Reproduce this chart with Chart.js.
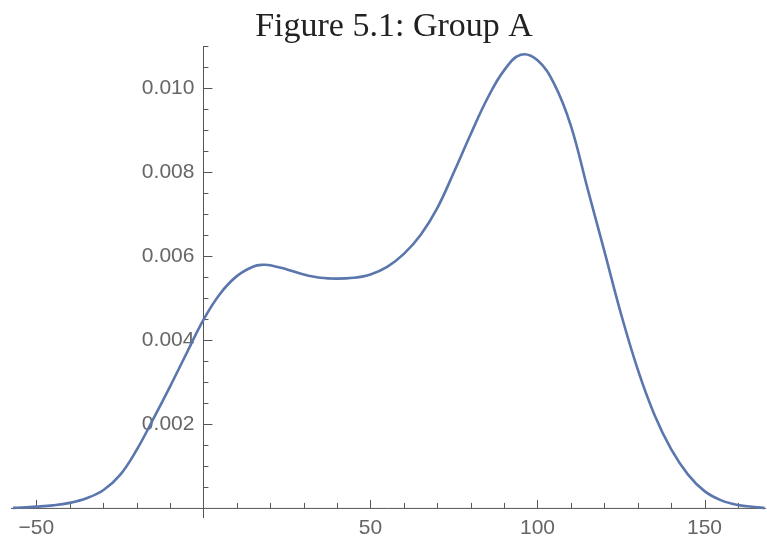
<!DOCTYPE html>
<html>
<head>
<meta charset="utf-8">
<title>Figure 5.1: Group A</title>
<script src="https://cdn.jsdelivr.net/npm/chart.js@4/dist/chart.umd.min.js"></script>
<style>
  body { margin: 0; background: #ffffff; }
  #wrap { width: 767px; height: 539px; }
</style>
</head>
<body>
<div id="wrap"><canvas id="densityChart" width="767" height="539"></canvas></div>
<script>
// density estimate
var xValues = [-57, -50, -45, -40, -35, -30, -25, -20, -15, -10, -5, 0, 5, 10, 15, 18, 20, 25, 30, 35, 40, 45, 50, 55, 60, 65, 70, 75, 80, 85, 90, 95, 100, 105, 110, 115, 120, 125, 130, 135, 140, 145, 150, 155, 160, 165, 168];
var densityValues = [0.00000, 0.00003, 0.00006, 0.00012, 0.00023, 0.00042, 0.00078, 0.00138, 0.00212, 0.00289, 0.00369, 0.00448, 0.00510, 0.00552, 0.00575, 0.00579, 0.00578, 0.00568, 0.00556, 0.00548, 0.00546, 0.00548, 0.00556, 0.00574, 0.00605, 0.00650, 0.00714, 0.00800, 0.00890, 0.00975, 0.01042, 0.01079, 0.01066, 0.01010, 0.00910, 0.00760, 0.00612, 0.00462, 0.00330, 0.00222, 0.00140, 0.00080, 0.00040, 0.00018, 0.00007, 0.00002, 0.00000];

var chartTitle = 'Figure 5.1: Group A';
var xTickLabels = [-50, 50, 100, 150];
var yTickLabels = [0.002, 0.004, 0.006, 0.008, 0.010];
var xMinorStep = 10;
var yMinorStep = 0.0005;

var axisColor = '#555555';
var labelColor = '#666666';

function fmtX(v) {
  return v < 0 ? '\u2212' + Math.abs(v) : String(v);
}

// Mathematica style axes crossing at (0, 0), ticks pointing inward
var mathAxes = {
  id: 'mathAxes',
  beforeDatasetsDraw: function(chart) {
    var ctx = chart.ctx;
    var xs = chart.scales.x;
    var ys = chart.scales.y;
    var area = chart.chartArea;
    var x0 = xs.getPixelForValue(0);
    var y0 = ys.getPixelForValue(0);

    ctx.save();
    ctx.strokeStyle = axisColor;
    ctx.lineWidth = 1;
    ctx.beginPath();
    ctx.moveTo(area.left, y0 + 0.5);
    ctx.lineTo(area.right, y0 + 0.5);
    ctx.moveTo(Math.round(x0) + 0.5, area.bottom);
    ctx.lineTo(Math.round(x0) + 0.5, area.top);

    // x ticks
    for (var v = -50; v <= xs.max; v += xMinorStep) {
      if (v === 0) continue;
      var px = Math.round(xs.getPixelForValue(v)) + 0.5;
      var len = (v % 50 === 0) ? 8 : 5;
      ctx.moveTo(px, y0);
      ctx.lineTo(px, y0 - len);
    }
    // y ticks
    for (var i = 1; i * yMinorStep <= ys.max + 1e-9; i++) {
      var val = i * yMinorStep;
      var py = Math.round(ys.getPixelForValue(val)) + 0.5;
      var ylen = (i % 4 === 0) ? 9 : 5;
      ctx.moveTo(x0, py);
      ctx.lineTo(x0 + ylen, py);
    }
    ctx.stroke();

    ctx.fillStyle = labelColor;
    ctx.font = '21px "Liberation Sans", Arial, sans-serif';
    ctx.textAlign = 'center';
    ctx.textBaseline = 'middle';
    xTickLabels.forEach(function(v) {
      ctx.fillText(fmtX(v), xs.getPixelForValue(v), y0 + 20);
    });
    ctx.textAlign = 'right';
    yTickLabels.forEach(function(v) {
      ctx.fillText(v.toFixed(3), x0 - 9, ys.getPixelForValue(v));
    });

    // title
    ctx.fillStyle = '#222222';
    ctx.font = '34px "Liberation Serif", "Times New Roman", serif';
    ctx.textAlign = 'center';
    ctx.textBaseline = 'alphabetic';
    ctx.fillText(chartTitle, 394, 36);
    ctx.restore();
  }
};

var ctx = document.getElementById('densityChart').getContext('2d');
var chart = new Chart(ctx, {
  type: 'line',
  data: {
    datasets: [{
      label: 'Group A',
      data: xValues.map(function(x, i) { return { x: x, y: densityValues[i] }; }),
      borderColor: '#5a76ad',
      borderWidth: 2.6,
      pointRadius: 0,
      fill: false,
      tension: 0.4
    }]
  },
  options: {
    responsive: false,
    animation: false,
    layout: {
      padding: { top: 46, left: 11, right: 1, bottom: 21 }
    },
    plugins: {
      legend: { display: false },
      title: { display: false },
      tooltip: { enabled: false }
    },
    scales: {
      x: { type: 'linear', min: -57.6, max: 168.4, display: false },
      y: { type: 'linear', min: -0.00024, max: 0.011, display: false }
    }
  },
  plugins: [mathAxes]
});
</script>
</body>
</html>
